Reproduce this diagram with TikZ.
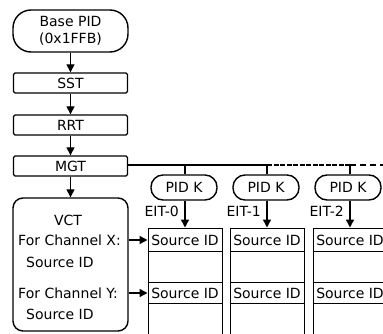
\documentclass[tikz,border=0pt]{standalone}
\usepackage{fontspec}
\setmainfont{DejaVu Sans}
\usetikzlibrary{arrows.meta}
\begin{document}
\begin{tikzpicture}[x=1pt,y=-1pt,
  every node/.style={font=\fontsize{14}{17}\selectfont, inner sep=0pt},
  tbox/.style={draw, line width=1.4pt, minimum width=114pt, minimum height=20pt, rounded corners=1.5pt},
  pill/.style={draw, line width=1.4pt, rounded corners=12pt, minimum width=66pt, minimum height=25pt},
  colbox/.style={draw, line width=1pt, minimum width=74pt, minimum height=112pt},
  arr/.style={line width=1.4pt, -{Triangle[length=8pt,width=8pt]}},
  conn/.style={line width=1.4pt},
  lbl/.style={anchor=west}]
\clip (0,0) rectangle (383,334);
\fill[white] (0,0) rectangle (383,334);

% left column
\node[draw, line width=1.4pt, rounded corners=18pt, minimum width=115pt, minimum height=42pt, align=center] (base) at (70.5,31) {Base PID\\(0x1FFB)};
\node[tbox] (sst) at (70.5,83) {SST};
\node[tbox] (rrt) at (70.5,125) {RRT};
\node[tbox] (mgt) at (70.5,166) {MGT};
\node[draw, line width=1.4pt, rounded corners=10pt, minimum width=115pt, minimum height=133pt] (vct) at (70.5,264.5) {};
\node (vctt) at (68,220) {VCT};
\node[lbl] (chx) at (18,240) {For Channel X:};
\node[lbl] (sx) at (26,262) {Source ID};
\node[lbl] (chy) at (18,293) {For Channel Y:};
\node[lbl] (sy) at (26,314) {Source ID};

\draw[arr] (base) -- (sst);
\draw[arr] (sst) -- (rrt);
\draw[arr] (rrt) -- (mgt);
\draw[arr] (mgt) -- (vct);

% branch line
\coordinate (b1) at (185,165);
\coordinate (b2) at (267,165);
\coordinate (b3) at (350,165);
\coordinate (bend) at (384,165);
\draw[conn] (mgt.east |- b1) -- (b2);
\draw[conn, dash pattern=on 5pt off 1.5pt] (b2) -- (b3);
\draw[conn, dash pattern=on 6pt off 4pt] (b3) -- (bend);

% PID K pills
\node[pill] (pk1) at (184,187.5) {PID K};
\node[pill] (pk2) at (266,187.5) {PID K};
\node[pill] (pk3) at (348,187.5) {PID K};
\draw[conn] (b1) -- (b1 |- pk1.north);
\draw[conn] (b2) -- (b2 |- pk2.north);
\draw[conn] (b3) -- (b3 |- pk3.north);

% EIT columns
\node[colbox] (c1) at (185,284) {};
\node[colbox] (c2) at (267,284) {};
\node[colbox] (c3) at (350,284) {};
\foreach \c in {c1,c2,c3}{
  \draw[line width=1pt] (\c.west |- 0,251) -- (\c.east |- 0,251);
  \draw[line width=1pt] (\c.west |- 0,282) -- (\c.east |- 0,282);
  \draw[line width=1pt] (\c.west |- 0,303) -- (\c.east |- 0,303);
}
\node (s1a) at (185,240) {Source ID};
\node (s2a) at (267,240) {Source ID};
\node (s3a) at (350,240) {Source ID};
\node (s1b) at (185,293) {Source ID};
\node (s2b) at (267,293) {Source ID};
\node (s3b) at (350,293) {Source ID};

\draw[arr] (pk1.south -| c1.north) -- (c1.north);
\draw[arr] (pk2.south -| c2.north) -- (c2.north);
\draw[arr] (pk3.south -| c3.north) -- (c3.north);

\node[anchor=east] (e0) at (179,211) {EIT-0};
\node[anchor=east] (e1) at (261,211) {EIT-1};
\node[anchor=east] (e2) at (344,211) {EIT-2};

\draw[arr] (s1a.west -| vct.east) -- (c1.west |- s1a.west);
\draw[arr] (s1b.west -| vct.east) -- (c1.west |- s1b.west);
\end{tikzpicture}
\end{document}
